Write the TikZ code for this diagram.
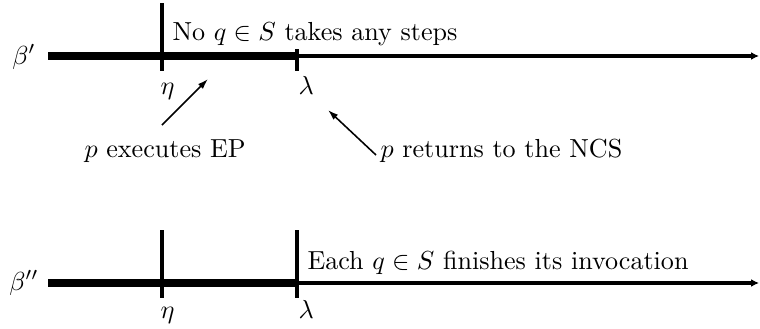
\documentclass[tikz,border=0pt]{standalone}
\usetikzlibrary{arrows.meta}
\begin{document}
\begin{tikzpicture}[x=0.3832pt,y=0.3832pt,
    run/.style={line width=1.2pt},
    done/.style={line width=3.2pt},
    tickmark/.style={line width=1.3pt},
    lab/.style={inner sep=0pt,anchor=base west},
    note/.style={line width=0.6pt,-{Latex[length=4pt,width=2.6pt]}}]
    \useasboundingbox (0,0) rectangle (760,328);

    \node (beta1) at (24,271) {$\beta'$};
    \coordinate (s1) at (48,272);
    \coordinate (eta1) at (162,272);
    \coordinate (lam1) at (297,272);
    \coordinate (e1) at (759,272);
    \draw[run,-{Latex[length=3pt,width=3pt]}] (s1) -- (e1);
    \draw[done] (s1) -- (lam1);
    \draw[tickmark] (eta1) ++(0,53) -- ++(0,-68);
    \draw[tickmark] (lam1) ++(0,7) -- ++(0,-22);
    \node[lab] (etalab1) at (160,234) {$\eta$};
    \node[lab] (lamlab1) at (298,234) {$\lambda$};
    \node[lab] (nostep) at (172,288) {No $q \in S$ takes any steps};

    \node[lab] (exec) at (84,171) {$p$ executes EP};
    \coordinate (exectail) at (162,203);
    \coordinate (exectip) at (208,249);
    \draw[note] (exectail) -- (exectip);
    \node[lab] (ret) at (380,171) {$p$ returns to the NCS};
    \coordinate (rettail) at (376,173);
    \coordinate (rettip) at (328,218);
    \draw[note] (rettail) -- (rettip);

    \node (beta2) at (24,45) {$\beta''$};
    \coordinate (s2) at (48,45);
    \coordinate (eta2) at (162,45);
    \coordinate (lam2) at (297,45);
    \coordinate (e2) at (759,45);
    \draw[run,-{Latex[length=3pt,width=3pt]}] (s2) -- (e2);
    \draw[done] (s2) -- (lam2);
    \draw[tickmark] (eta2) ++(0,53) -- ++(0,-68);
    \draw[tickmark] (lam2) ++(0,53) -- ++(0,-68);
    \node[lab] (etalab2) at (160,10) {$\eta$};
    \node[lab] (lamlab2) at (298,10) {$\lambda$};
    \node[lab] (each) at (307,59) {Each $q \in S$ finishes its invocation};
\end{tikzpicture}
\end{document}
